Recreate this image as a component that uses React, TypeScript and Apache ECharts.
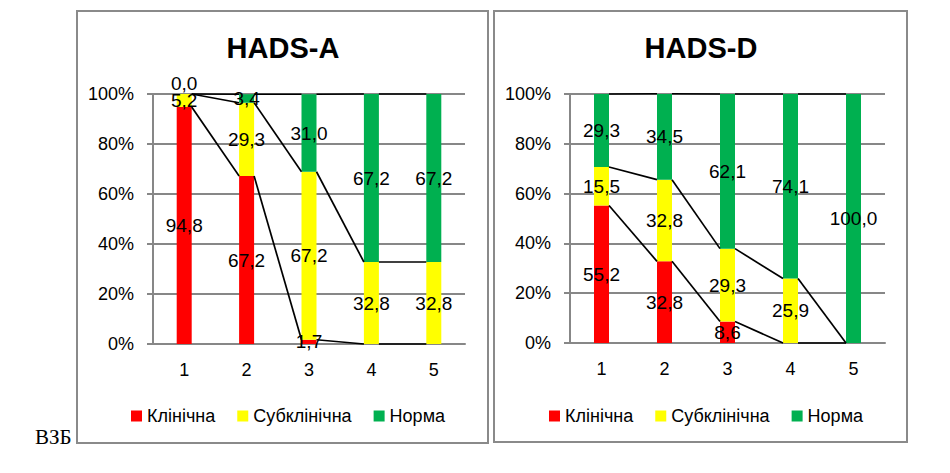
import React, { useEffect, useRef } from "react";
import * as echarts from "echarts";

const categories = ["1", "2", "3", "4", "5"];
const seriesNames = ["Клінічна", "Субклінічна", "Норма"];
const seriesColors = ["#FF0000", "#FFFF00", "#00B050"];

const hadsAClinical: (number | null)[] = [94.8, 67.2, 1.7, null, null];
const hadsASubclinical: (number | null)[] = [5.2, 29.3, 67.2, 32.8, 32.8];
const hadsANorm: (number | null)[] = [0.0, 3.4, 31.0, 67.2, 67.2];

const hadsDClinical: (number | null)[] = [55.2, 32.8, 8.6, null, null];
const hadsDSubclinical: (number | null)[] = [15.5, 32.8, 29.3, 25.9, null];
const hadsDNorm: (number | null)[] = [29.3, 34.5, 62.1, 74.1, 100.0];

const yTicks = { min: 0, max: 100, interval: 20 };

const FONT = '"Liberation Sans", Arial, sans-serif';
const GREY = "#878787";
const BAR_W = 15;

function fmt(v: number) {
  return v.toFixed(1).replace(".", ",");
}

function cumulative(groups: (number | null)[][]) {
  const out: number[][] = [];
  let acc = categories.map(() => 0);
  groups.forEach((g) => {
    acc = acc.map((a, i) => a + (g[i] ?? 0));
    out.push(acc.slice());
  });
  return out;
}

function buildChart(
  idx: number,
  groups: (number | null)[][],
  grid: { left: number; top: number; width: number; height: number }
) {
  const xAxis = {
    type: "category",
    gridIndex: idx,
    data: categories,
    axisLine: { show: true, lineStyle: { color: GREY, width: 2 } },
    axisTick: { show: false },
    axisLabel: { color: "#000", fontSize: 18, fontFamily: FONT, margin: 17 },
  };
  const yAxis = {
    type: "value",
    gridIndex: idx,
    ...yTicks,
    axisLine: { show: true, lineStyle: { color: GREY, width: 2 } },
    axisTick: { show: true, length: 6, lineStyle: { color: GREY, width: 2 } },
    splitLine: { show: true, lineStyle: { color: GREY, width: 2 } },
    axisLabel: {
      color: "#000",
      fontSize: 18,
      fontFamily: FONT,
      margin: 19,
      formatter: "{value}%",
    },
  };
  const bars = groups.map((g, s) => ({
    name: seriesNames[s],
    type: "bar",
    xAxisIndex: idx,
    yAxisIndex: idx,
    stack: "total" + idx,
    barWidth: BAR_W,
    data: g.map((v) =>
      v === 0 ? { value: v, label: { offset: [0, -11] } } : v
    ),
    itemStyle: { color: seriesColors[s] },
    label: {
      show: true,
      position: "inside",
      color: "#000",
      fontSize: 19,
      fontFamily: FONT,
      formatter: (p: any) => (p.value == null ? "" : fmt(p.value)),
    },
  }));
  const cum = cumulative(groups);
  const lines = cum.map((c, s) => ({
    name: "lines" + idx + "-" + s,
    type: "custom",
    xAxisIndex: idx,
    yAxisIndex: idx,
    z: 5,
    silent: true,
    data: c.slice(0, -1).map((v, i) => [i, v, c[i + 1]]),
    encode: { x: 0, y: 1 },
    renderItem: (params: any, api: any) => {
      const i = api.value(0);
      const p0 = api.coord([i, api.value(1)]);
      const p1 = api.coord([i + 1, api.value(2)]);
      return {
        type: "line",
        shape: {
          x1: p0[0] + BAR_W / 2,
          y1: p0[1],
          x2: p1[0] - BAR_W / 2,
          y2: p1[1],
        },
        style: { stroke: "#000", lineWidth: 1.7 },
      };
    },
  }));
  return { grid, xAxis, yAxis, series: [...bars, ...lines] };
}

export default function App() {
  const ref = useRef<HTMLDivElement>(null);
  useEffect(() => {
    document.body.style.margin = "0";
    if (!ref.current) return;
    const chart = echarts.init(ref.current, null, { renderer: "svg" });
    const a = buildChart(0, [hadsAClinical, hadsASubclinical, hadsANorm], {
      left: 153,
      top: 94,
      width: 312,
      height: 250,
    });
    const d = buildChart(1, [hadsDClinical, hadsDSubclinical, hadsDNorm], {
      left: 570,
      top: 94,
      width: 315,
      height: 249,
    });
    const legendBase = {
      data: seriesNames,
      orient: "horizontal",
      itemWidth: 11,
      itemHeight: 11,
      itemGap: 22,
      icon: "rect",
      selectedMode: false,
      textStyle: { color: "#000", fontSize: 18, fontFamily: FONT },
    };
    const option: any = {
      animation: false,
      backgroundColor: "#fff",
      grid: [a.grid, d.grid],
      xAxis: [a.xAxis, d.xAxis],
      yAxis: [a.yAxis, d.yAxis],
      series: [...a.series, ...d.series],
      legend: [
        { ...legendBase, left: 126, top: 402 },
        { ...legendBase, left: 544, top: 402 },
      ],
      graphic: [
        {
          type: "rect",
          shape: { x: 77, y: 11, width: 411, height: 432 },
          style: { fill: "none", stroke: "#8a8a8a", lineWidth: 2 },
          z: 0,
        },
        {
          type: "rect",
          shape: { x: 494, y: 11, width: 413, height: 431 },
          style: { fill: "none", stroke: "#8a8a8a", lineWidth: 2 },
          z: 0,
        },
        {
          type: "text",
          x: 283,
          y: 48,
          style: {
            text: "HADS-A",
            fontSize: 29,
            fontWeight: "bold",
            fontFamily: FONT,
            fill: "#000",
            align: "center",
            verticalAlign: "middle",
          },
        },
        {
          type: "text",
          x: 701,
          y: 48,
          style: {
            text: "HADS-D",
            fontSize: 29,
            fontWeight: "bold",
            fontFamily: FONT,
            fill: "#000",
            align: "center",
            verticalAlign: "middle",
          },
        },
        {
          type: "text",
          x: 35,
          y: 437,
          style: {
            text: "ВЗБ",
            fontSize: 21,
            fontFamily: '"Liberation Serif", "Times New Roman", serif',
            fill: "#000",
            align: "left",
            verticalAlign: "middle",
          },
        },
      ],
    };
    chart.setOption(option);
    return () => chart.dispose();
  }, []);
  return <div ref={ref} style={{ width: 950, height: 473 }} />;
}
